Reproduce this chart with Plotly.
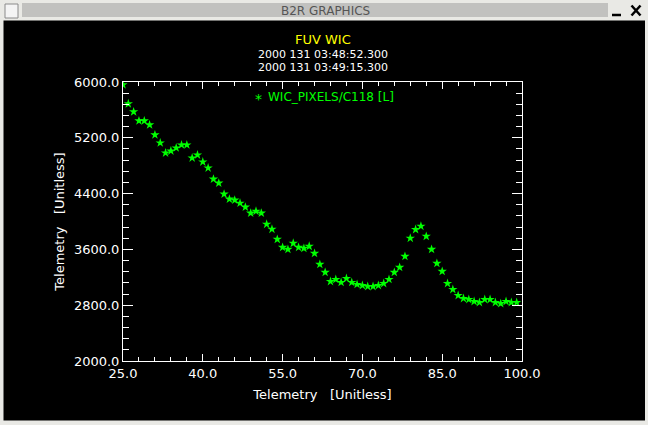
import plotly.graph_objects as go

W, H = 648, 425
L, R, T, B = 123, 126, 82, 64
PW, PH = W - L - R, H - T - B

# telemetry samples
frame_x = [25, 26, 27, 28, 29, 30, 31, 32, 33, 34, 35, 36, 37, 38, 39,
           40, 41, 42, 43, 44, 45, 46, 47, 48, 49, 50, 51, 52, 53, 54,
           55, 56, 57, 58, 59, 60, 61, 62, 63, 64, 65, 66, 67, 68, 69,
           70, 71, 72, 73, 74, 75, 76, 77, 78, 79, 80, 81, 82, 83, 84,
           85, 86, 87, 88, 89, 90, 91, 92, 93, 94, 95, 96, 97, 98, 99]
wic_pixels = [5961, 5688, 5573, 5443, 5443, 5386, 5242, 5127, 4983, 5011,
              5055, 5098, 5098, 4911, 4954, 4853, 4767, 4608, 4551, 4393,
              4321, 4307, 4263, 4206, 4120, 4148, 4120, 3961, 3889, 3745,
              3630, 3601, 3688, 3630, 3616, 3645, 3544, 3386, 3271, 3141,
              3170, 3127, 3184, 3127, 3098, 3083, 3069, 3069, 3083, 3112,
              3170, 3271, 3343, 3501, 3760, 3885, 3932, 3788, 3601, 3400,
              3285, 3112, 3026, 2939, 2896, 2882, 2853, 2839, 2882, 2882,
              2839, 2824, 2853, 2839, 2839]

series_name = "WIC_PIXELS/C118 [L]"
title_lines = ["FUV WIC", "2000 131 03:48:52.300", "2000 131 03:49:15.300"]
axis_title = "Telemetry&nbsp;&nbsp; [Unitless]"
window_title = "B2R GRAPHICS"

GREEN = "#00ff00"
FONT = "DejaVu Sans"


def px(x):
    return (x - L) / PW


def py(y):
    return (H - B - y) / PH


def rect(x0, y0, x1, y1, fill, line=None, layer="below"):
    return dict(type="rect", xref="paper", yref="paper",
                x0=px(x0), x1=px(x1), y0=py(y1), y1=py(y0),
                fillcolor=fill, line=dict(width=1 if line else 0, color=line or fill),
                layer=layer)


def seg(x0, y0, x1, y1, color, width=1):
    return dict(type="line", xref="paper", yref="paper",
                x0=px(x0), x1=px(x1), y0=py(y0), y1=py(y1),
                line=dict(color=color, width=width), layer="above")


def label(text, x, y, size, color, xanchor="center"):
    return dict(text=text, x=px(x), y=py(y), xref="paper", yref="paper",
                xanchor=xanchor, yanchor="middle", showarrow=False,
                font=dict(family=FONT, size=size, color=color))


fig = go.Figure()
fig.add_trace(go.Scatter(
    x=frame_x, y=wic_pixels, mode="markers", name=series_name,
    marker=dict(symbol="star", size=7, color=GREEN, line=dict(width=0)),
    showlegend=False, hoverinfo="skip",
))

shapes = [rect(3.5, 20.5, 645, 420.5, "black")]
# window title bar with its buttons
shapes.append(rect(22, 3, 608, 17, "#d2d2d0"))
for yy in range(4, 17, 2):
    shapes.append(dict(type="line", xref="paper", yref="paper",
                       x0=px(22), x1=px(608), y0=py(yy), y1=py(yy),
                       line=dict(color="#b0b0ae", width=1), layer="below"))
shapes.append(rect(5, 4, 18, 18, "#f4f4f4", line="#8a8a8a"))
shapes.append(seg(612, 15, 621, 15, "black", 2.5))
shapes.append(seg(631.5, 5.5, 640.5, 15.5, "black", 2.5))
shapes.append(seg(631.5, 15.5, 640.5, 5.5, "black", 2.5))

ann = [
    label(window_title, 325, 10.5, 12, "#555555"),
    label(title_lines[0], 323, 40, 13, "#ffff00"),
    label(title_lines[1], 323, 54.5, 11, "white"),
    label(title_lines[2], 323, 67.5, 11, "white"),
    # legend entry
    label("*", 258, 99, 14, GREEN),
    label(series_name, 266, 97, 12, GREEN, xanchor="left"),
]

axis_common = dict(
    showgrid=False, zeroline=False, showline=True, linecolor="white", linewidth=1,
    mirror="allticks", ticks="inside", tickcolor="white", tickwidth=1,
    tickformat=".1f", tickfont=dict(family=FONT, size=13, color="white"),
    automargin=False,
)

fig.update_xaxes(
    range=[25, 100], tick0=25, dtick=15, ticklen=7,
    minor=dict(dtick=3, tick0=25, ticklen=4, ticks="inside", tickcolor="white"),
    title=dict(text=axis_title, font=dict(family=FONT, size=13, color="white"), standoff=10),
    **axis_common,
)
fig.update_yaxes(
    range=[2000, 6000], tick0=2000, dtick=800, ticklen=10,
    minor=dict(dtick=160, tick0=2000, ticklen=6, ticks="inside", tickcolor="white"),
    title=dict(text=axis_title, font=dict(family=FONT, size=13, color="white"), standoff=6),
    **axis_common,
)

fig.update_layout(
    width=W, height=H,
    margin=dict(l=L, r=R, t=T, b=B, autoexpand=False),
    paper_bgcolor="#e9e9e5", plot_bgcolor="black",
    shapes=shapes, annotations=ann,
    font=dict(family=FONT, color="white"),
)

# the page is photographed at exactly the figure size, so drop the body margin
fig.write_html("out.html", config={"displayModeBar": False},
               post_script="document.body.style.margin='0';")
